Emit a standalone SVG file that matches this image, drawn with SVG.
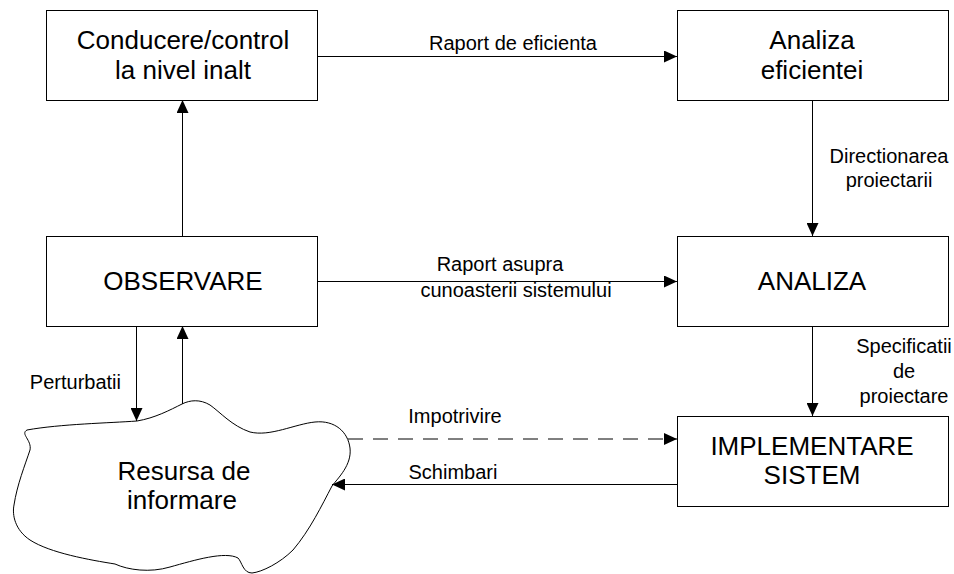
<svg xmlns="http://www.w3.org/2000/svg" width="954" height="574" viewBox="0 0 954 574">
<defs>
<style>
.box{fill:#fff;stroke:#000;stroke-width:1}
.ln{fill:none;stroke:#000;stroke-width:1}
.big{font-family:"Liberation Sans",Arial,sans-serif;font-size:26px;fill:#000;text-anchor:middle}
.lbl{font-family:"Liberation Sans",Arial,sans-serif;font-size:20px;fill:#000;text-anchor:middle}
</style>
<marker id="ah" markerUnits="userSpaceOnUse" markerWidth="13" markerHeight="12" refX="13" refY="6" orient="auto" viewBox="0 0 13 12">
<path d="M0,0 L13,6 L0,12 z" fill="#000"/>
</marker>
</defs>
<rect width="954" height="574" fill="#fff"/>
<g id="connectors">
<path class="ln" d="M317,56.5 H677" marker-end="url(#ah)"/>
<path class="ln" d="M812.5,100 V236" marker-end="url(#ah)"/>
<path class="ln" d="M317,281.5 H677" marker-end="url(#ah)"/>
<path class="ln" d="M812.5,326 V416" marker-end="url(#ah)"/>
<path class="ln" d="M182.5,236 V100" marker-end="url(#ah)"/>
<path class="ln" d="M136.5,326 V421" marker-end="url(#ah)"/>
<path class="ln" d="M182.5,404 V326" marker-end="url(#ah)"/>
<path class="ln" d="M348,439 H677" stroke-width="2" stroke-dasharray="15 10" marker-end="url(#ah)"/>
<path class="ln" d="M677,484.5 H332" marker-end="url(#ah)"/>
<text class="lbl" x="513" y="50">Raport de eficienta</text>
<text class="lbl" x="889" y="163">Directionarea</text>
<text class="lbl" x="889" y="187">proiectarii</text>
<text class="lbl" x="500" y="271">Raport asupra</text>
<text class="lbl" x="516" y="297">cunoasterii sistemului</text>
<text class="lbl" x="904" y="353">Specificatii</text>
<text class="lbl" x="904" y="378">de</text>
<text class="lbl" x="904" y="403">proiectare</text>
<text class="lbl" x="121" y="389" style="text-anchor:end">Perturbatii</text>
<text class="lbl" x="455" y="423">Impotrivire</text>
<text class="lbl" x="453" y="479">Schimbari</text>
</g>
<g id="conducere">
<rect class="box" x="46.5" y="10.5" width="271" height="90"/>
<text class="big" x="183" y="49">Conducere/control</text>
<text class="big" x="183" y="79">la nivel inalt</text>
</g>
<g id="analiza-eficientei">
<rect class="box" x="677.5" y="10.5" width="271" height="90"/>
<text class="big" x="812" y="49">Analiza</text>
<text class="big" x="812" y="79">eficientei</text>
</g>
<g id="observare">
<rect class="box" x="46.5" y="236.5" width="271" height="90"/>
<text class="big" x="183" y="290">OBSERVARE</text>
</g>
<g id="analiza">
<rect class="box" x="677.5" y="236.5" width="271" height="90"/>
<text class="big" x="812" y="290">ANALIZA</text>
</g>
<g id="implementare">
<rect class="box" x="677.5" y="416.5" width="271" height="90"/>
<text class="big" x="812" y="455">IMPLEMENTARE</text>
<text class="big" x="812" y="484">SISTEM</text>
</g>
<g id="resursa">
<path class="ln" d="M27,430 C60,424 110,423 137,421 C155,418 170,410 182,404 C190,400 200,399 210,405 C220,412 232,426 250,432 C270,437 295,424 315,422 C335,420 348,432 350,448 C352,465 338,478 332,486 C322,505 310,530 293,550 C280,563 262,572 252,573 C243,573 242,562 238,558 C225,551 195,560 170,567 C150,573 128,570 115,564 C90,560 50,553 30,540 C15,530 12,515 14,505 C17,485 25,465 30,450 C32,440 20,434 27,430 Z"/>
<text class="big" x="184" y="480">Resursa de</text>
<text class="big" x="182" y="509">informare</text>
</g>
</svg>
